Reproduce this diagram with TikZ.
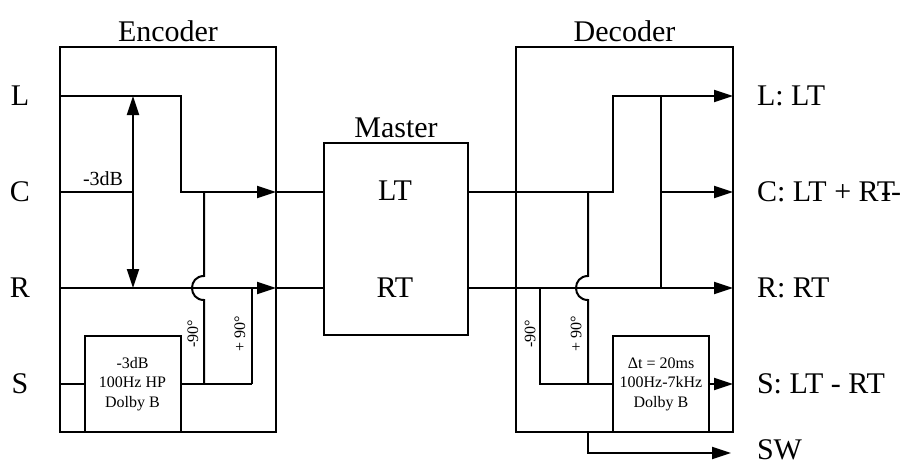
\documentclass[tikz,border=0pt]{standalone}
\usepackage{fontspec}
\setmainfont{Liberation Serif}
\usepackage{tikz}
\usetikzlibrary{positioning,arrows.meta}

\tikzset{
  unitbox/.style={draw, inner sep=0pt},
  filterbox/.style={draw, align=center, inner sep=0pt, minimum width=96pt, minimum height=96pt,
    font=\fontsize{16}{19.5}\selectfont},
  smalltxt/.style={inner sep=0pt, font=\fontsize{16}{19}\selectfont},
  chanlabel/.style={inner sep=0pt, anchor=west}
}

\begin{document}
\begin{tikzpicture}[x=1pt,y=-1pt,line width=2pt,>={Triangle[length=19pt,width=12pt]},
    font=\fontsize{30}{36}\selectfont]
    \useasboundingbox (0,0) rectangle (909,466);
    % blocks
    \node[unitbox, minimum width=216pt, minimum height=385pt] (enc) at (168,239.5) {};
    \node[unitbox, minimum width=217pt, minimum height=385pt] (dec) at (624.5,239.5) {};
    \node[unitbox, minimum width=144pt, minimum height=192pt] (master) at (396,239) {};
    \node[above=0pt of enc] (encT) {Encoder};
    \node[above=0pt of dec] (decT) {Decoder};
    \node[above=0pt of master] (masterT) {Master};
    \node (lt) at (395,191) {LT};
    \node (rt) at (395,288) {RT};
    \node[filterbox] (encF) at (132.5,384) {-3dB\\100Hz HP\\Dolby B};
    \node[filterbox] (decF) at (661,384) {Δt = 20ms\\100Hz-7kHz\\Dolby B};

    % inputs
    \node (inL) at (20,96) {L};
    \node (inC) at (20,192) {C};
    \node (inR) at (20,288) {R};
    \node (inS) at (20,384) {S};
    \coordinate (eL) at (60,96);
    \coordinate (eC) at (60,192);
    \coordinate (eR) at (60,288);
    \coordinate (eS) at (60,384);

    % encoder
    \coordinate (eLbend) at (181,96);
    \coordinate (eLT) at (276,192);
    \coordinate (eRT) at (276,288);
    \coordinate (gainTop) at (133,96);
    \coordinate (gainBot) at (133,288);
    \coordinate (eMinusTop) at (204,192);
    \coordinate (eJa) at (204,276);
    \coordinate (eJb) at (204,300);
    \coordinate (eMinusBot) at (204,384);
    \coordinate (ePlusTop) at (252,288);
    \coordinate (ePlusBot) at (252,384);
    \draw[->] (eL) -- (eLbend) |- (eLT);
    \draw (eLT) -- (master.west |- eLT);
    \draw[->] (eR) -- (eRT);
    \draw (eRT) -- (master.west |- eRT);
    \draw (eC) -- (gainTop |- eC);
    \draw[<->] (gainBot) -- (gainTop);
    \draw (eMinusTop) -- (eJa) .. controls +(-16,0) and +(-16,0) .. (eJb) -- (eMinusBot);
    \draw (ePlusTop) -- (ePlusBot);
    \draw (eS) -- (encF.west);
    \draw (encF.east) -- (ePlusBot);
    \node[anchor=base, font=\fontsize{20}{24}\selectfont, inner sep=0pt] (gainLbl) at (103,185) {-3dB};
    \node[smalltxt, rotate=90] (eMinusLbl) at (193,334) {-90°};
    \node[smalltxt, rotate=90] (ePlusLbl) at (240,334) {+ 90°};

    % decoder
    \coordinate (dLbend) at (613,192);
    \coordinate (dLout) at (733,96);
    \coordinate (dCout) at (733,192);
    \coordinate (dRout) at (733,288);
    \coordinate (dSout) at (733,384);
    \coordinate (sumTop) at (661,96);
    \coordinate (sumBot) at (661,288);
    \coordinate (dMinusTop) at (540,288);
    \coordinate (dMinusBot) at (540,384);
    \coordinate (dPlusTop) at (588,192);
    \coordinate (dJa) at (588,276);
    \coordinate (dJb) at (588,300);
    \coordinate (dPlusBot) at (588,384);
    \coordinate (swTop) at (588,432);
    \coordinate (swOut) at (731,453);
    \draw[->] (master.east |- dLbend) -- (dLbend) |- (dLout);
    \draw (sumTop) -- (sumBot);
    \draw[->] (sumTop |- dCout) -- (dCout);
    \draw[->] (master.east |- dRout) -- (dRout);
    \draw (dMinusTop) -- (dMinusBot) -- (decF.west);
    \draw (dPlusTop) -- (dJa) .. controls +(-16,0) and +(-16,0) .. (dJb) -- (dPlusBot);
    \draw[->] (decF.east) -- (dSout);
    \draw[->] (swTop) |- (swOut);
    \node[smalltxt, rotate=90] (dMinusLbl) at (530,334) {-90°};
    \node[smalltxt, rotate=90] (dPlusLbl) at (576,334) {+ 90°};

    % outputs
    \node[chanlabel] (outL) at (756,96) {L: LT};
    \node[chanlabel] (outC) at (756,192) {C: LT + RT\kern-14pt-{}-};
    \node[chanlabel] (outR) at (756,288) {R: RT};
    \node[chanlabel] (outS) at (756,384) {S: LT - RT};
    \node[chanlabel] (outSW) at (756,450) {SW};
  \end{tikzpicture}
\end{document}
